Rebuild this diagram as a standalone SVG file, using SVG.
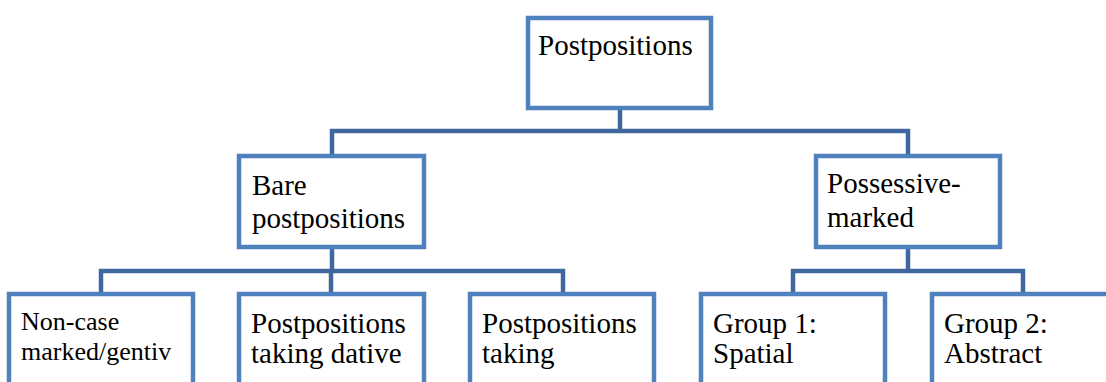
<svg xmlns="http://www.w3.org/2000/svg" width="1106" height="382" viewBox="0 0 1106 382">
<style>
.box{fill:#ffffff;stroke:#4F81BD;stroke-width:4.5}
.conn{fill:none;stroke:#41689E;stroke-width:4.5;stroke-linejoin:miter}
text{font-size:29px;fill:#000000}
text.s{font-size:26px}
</style>
<rect x="0" y="0" width="1106" height="382" fill="#ffffff"/>
<g id="connectors">
<path class="conn" d="M620 110 V131"/>
<path class="conn" d="M332 154 V131 H908 V154"/>
<path class="conn" d="M332 249 V271"/>
<path class="conn" d="M101 292 V271 H563 V292"/>
<path class="conn" d="M331 271 V292"/>
<path class="conn" d="M908 249 V271"/>
<path class="conn" d="M793 292 V271 H1023 V292"/>
</g>
<g id="root">
<rect class="box" x="528" y="18" width="183" height="90"/>
<text font-family="Liberation Serif, serif" x="538" y="55">Postpositions</text>
</g>
<g id="bare">
<rect class="box" x="239" y="156" width="185" height="91"/>
<text font-family="Liberation Serif, serif" x="252" y="195">Bare</text>
<text font-family="Liberation Serif, serif" x="252" y="228">postpositions</text>
</g>
<g id="possessive">
<rect class="box" x="816" y="156" width="184" height="91"/>
<text font-family="Liberation Serif, serif" x="827" y="193">Possessive-</text>
<text font-family="Liberation Serif, serif" x="827" y="227">marked</text>
</g>
<g id="noncase">
<rect class="box" x="9" y="294" width="184" height="120"/>
<text class="s" font-family="Liberation Serif, serif" x="21" y="330">Non-case</text>
<text class="s" font-family="Liberation Serif, serif" x="21" y="360">marked/gentiv</text>
</g>
<g id="dative">
<rect class="box" x="239" y="294" width="185" height="120"/>
<text font-family="Liberation Serif, serif" x="251" y="333">Postpositions</text>
<text font-family="Liberation Serif, serif" x="251" y="363">taking dative</text>
</g>
<g id="taking">
<rect class="box" x="470" y="294" width="184" height="120"/>
<text font-family="Liberation Serif, serif" x="482" y="333">Postpositions</text>
<text font-family="Liberation Serif, serif" x="482" y="363">taking</text>
</g>
<g id="group1">
<rect class="box" x="701" y="294" width="184" height="120"/>
<text font-family="Liberation Serif, serif" x="713" y="333">Group 1:</text>
<text font-family="Liberation Serif, serif" x="713" y="363">Spatial</text>
</g>
<g id="group2">
<rect class="box" x="932" y="294" width="184" height="120"/>
<text font-family="Liberation Serif, serif" x="944" y="333">Group 2:</text>
<text font-family="Liberation Serif, serif" x="944" y="363">Abstract</text>
</g>
</svg>
